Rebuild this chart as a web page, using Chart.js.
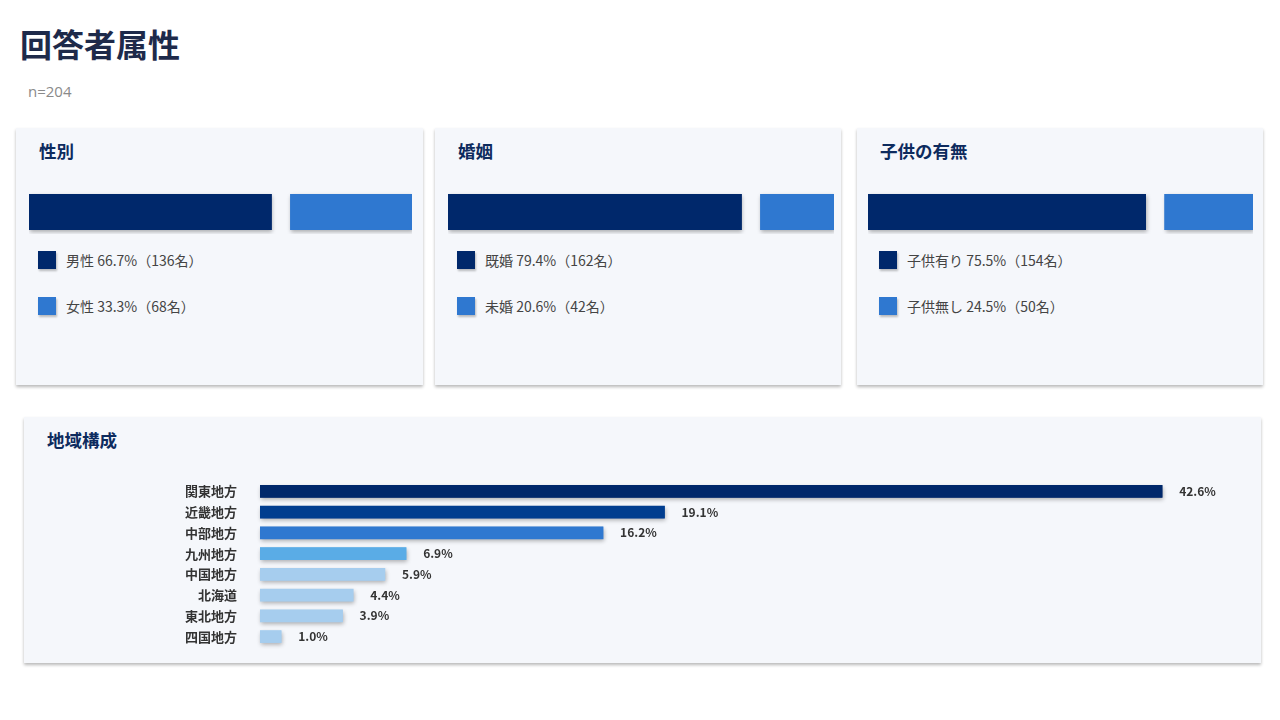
<!DOCTYPE html>
<html lang="ja">
<head>
<meta charset="utf-8">
<title>回答者属性</title>
<script src="https://cdn.jsdelivr.net/npm/chart.js@4.4.1/dist/chart.umd.min.js"></script>
<style>
    body {
        margin: 0;
        width: 1280px;
        height: 720px;
        background: #ffffff;
        font-family: "Noto Sans CJK JP", "Noto Sans", sans-serif;
        position: relative;
        overflow: hidden;
    }
    h1 {
        position: absolute;
        left: 20px;
        top: 27px;
        margin: 0;
        font-size: 32px;
        line-height: 32px;
        font-weight: 700;
        color: #1e2a4a;
    }
    .sample {
        position: absolute;
        left: 28px;
        top: 83px;
        font-family: "Open Sans", "Noto Sans", sans-serif;
        font-size: 15px;
        line-height: 16px;
        color: #8a8a8a;
    }
    .card {
        position: absolute;
        background: #f5f7fb;
        box-shadow: 0 2px 3px rgba(0, 0, 0, 0.28);
    }
    .card h2 {
        position: absolute;
        left: 23px;
        top: 14px;
        margin: 0;
        font-size: 17.5px;
        line-height: 18px;
        font-weight: 700;
        color: #0d2b5e;
    }
    .bar-box {
        position: absolute;
        top: 62px;
        height: 44px;
    }
    .legend-row {
        position: absolute;
        left: 22px;
        height: 18px;
        display: flex;
        align-items: center;
        font-size: 14px;
        color: #444;
        white-space: nowrap;
    }
    .legend-row span.box {
        width: 18px;
        height: 18px;
        margin-right: 10px;
        box-shadow: 1px 2px 2px rgba(0, 0, 0, 0.25);
    }
    .region-box {
        position: absolute;
        left: 0;
        top: 56px;
        width: 1237px;
        height: 182px;
    }
</style>
</head>
<body>

<h1>回答者属性</h1>
<div class="sample">n=204</div>

<div class="card" style="left:16px; top:128px; width:407px; height:257px;">
    <h2>性別</h2>
    <div class="bar-box" style="left:13px; width:383px;"><canvas id="genderChart"></canvas></div>
    <div id="genderLegend"></div>
</div>

<div class="card" style="left:435px; top:128px; width:406px; height:257px;">
    <h2>婚姻</h2>
    <div class="bar-box" style="left:13px; width:386px;"><canvas id="maritalChart"></canvas></div>
    <div id="maritalLegend"></div>
</div>

<div class="card" style="left:857px; top:128px; width:406px; height:257px;">
    <h2>子供の有無</h2>
    <div class="bar-box" style="left:11px; width:385px;"><canvas id="childChart"></canvas></div>
    <div id="childLegend"></div>
</div>

<div class="card" style="left:24px; top:417px; width:1237px; height:246px;">
    <h2>地域構成</h2>
    <div class="region-box"><canvas id="regionChart"></canvas></div>
</div>

<script>
// data
const genderLabels = ['男性', '女性'];
const genderPct = [66.7, 33.3];
const genderCount = [136, 68];

const maritalLabels = ['既婚', '未婚'];
const maritalPct = [79.4, 20.6];
const maritalCount = [162, 42];

const childLabels = ['子供有り', '子供無し'];
const childPct = [75.5, 24.5];
const childCount = [154, 50];

const regionLabels = ['関東地方', '近畿地方', '中部地方', '九州地方', '中国地方', '北海道', '東北地方', '四国地方'];
const regionPct = [42.6, 19.1, 16.2, 6.9, 5.9, 4.4, 3.9, 1.0];

// colours
const pairColors = ['#00286b', '#2f78d0'];
const regionColors = ['#00286b', '#003d8f', '#2f78d0', '#5aace6', '#a6cdee', '#a6cdee', '#a6cdee', '#a6cdee'];

const FONT = '"Noto Sans CJK JP", "Noto Sans", sans-serif';

// soft drop shadow under each bar (drawn before the bars themselves)
const barShadow = {
    id: 'barShadow',
    beforeDatasetsDraw(chart) {
        const ctx = chart.ctx;
        ctx.save();
        ctx.shadowColor = 'rgba(0, 0, 0, 0.3)';
        ctx.shadowBlur = 4;
        ctx.shadowOffsetX = 1;
        ctx.shadowOffsetY = 2;
        chart.data.datasets.forEach((ds, i) => {
            chart.getDatasetMeta(i).data.forEach(bar => {
                const p = bar.getProps(['x', 'y', 'base', 'height'], true);
                const bw = bar.options.borderWidth;
                const bl = typeof bw === 'object' ? (bw.left || 0) : 0;
                const br = typeof bw === 'object' ? (bw.right || 0) : 0;
                const left = Math.min(p.x, p.base) + bl;
                const right = Math.max(p.x, p.base) - br;
                ctx.fillStyle = bar.options.backgroundColor;
                ctx.fillRect(left, p.y - p.height / 2, right - left, p.height);
            });
        });
        ctx.restore();
    }
};

// percentage text at the end of each region bar
const endLabels = {
    id: 'endLabels',
    afterDatasetsDraw(chart) {
        const ctx = chart.ctx;
        ctx.save();
        ctx.font = '600 12px ' + FONT;
        ctx.fillStyle = '#333';
        ctx.textAlign = 'left';
        ctx.textBaseline = 'middle';
        chart.getDatasetMeta(0).data.forEach((bar, i) => {
            ctx.fillText(regionPct[i].toFixed(1) + '%', bar.x + 17, bar.y);
        });
        ctx.restore();
    }
};

function createSplitBar(canvasId, labels, values) {
    const ctx = document.getElementById(canvasId);
    new Chart(ctx, {
        type: 'bar',
        data: {
            labels: [''],
            datasets: labels.map((label, i) => ({
                label: label,
                data: [values[i]],
                backgroundColor: pairColors[i],
                // transparent border = gap between the two segments
                borderColor: 'rgba(0,0,0,0)',
                borderWidth: i === 0 ? { right: 13 } : { left: 6 },
                borderSkipped: false,
                barThickness: 36
            }))
        },
        options: {
            indexAxis: 'y',
            responsive: true,
            maintainAspectRatio: false,
            animation: false,
            layout: { padding: 0 },
            plugins: { legend: { display: false }, tooltip: { enabled: false } },
            scales: {
                x: { stacked: true, min: 0, max: 100, display: false },
                y: { stacked: true, display: false }
            }
        },
        plugins: [barShadow]
    });
}

function createLegend(elId, labels, pct, counts) {
    const el = document.getElementById(elId);
    labels.forEach((label, i) => {
        const row = document.createElement('div');
        row.className = 'legend-row';
        row.style.top = (123 + i * 46) + 'px';
        const box = document.createElement('span');
        box.className = 'box';
        box.style.background = pairColors[i];
        const text = document.createElement('span');
        text.textContent = label + ' ' + pct[i].toFixed(1) + '%（' + counts[i] + '名）';
        row.appendChild(box);
        row.appendChild(text);
        el.appendChild(row);
    });
}

function initRegionChart() {
    const ctx = document.getElementById('regionChart');
    new Chart(ctx, {
        type: 'bar',
        data: {
            labels: regionLabels,
            datasets: [{
                label: '地域構成',
                data: regionPct,
                backgroundColor: regionColors,
                barThickness: 12
            }]
        },
        options: {
            indexAxis: 'y',
            responsive: true,
            maintainAspectRatio: false,
            animation: false,
            layout: { padding: { top: 8, bottom: 8, right: 48, left: 0 } },
            plugins: { legend: { display: false }, tooltip: { enabled: false } },
            scales: {
                x: { min: 0, max: 45, display: false },
                y: {
                    grid: { display: false, drawTicks: false },
                    border: { display: false },
                    ticks: {
                        padding: 23,
                        color: '#333',
                        font: { family: FONT, size: 13, weight: 'bold' }
                    },
                    afterFit(scale) {
                        scale.width = 236;
                        // tick padding would otherwise also pad top/bottom
                        scale.paddingTop = 0;
                        scale.paddingBottom = 0;
                    }
                }
            }
        },
        plugins: [barShadow, endLabels]
    });
}

createSplitBar('genderChart', genderLabels, genderPct);
createSplitBar('maritalChart', maritalLabels, maritalPct);
createSplitBar('childChart', childLabels, childPct);
createLegend('genderLegend', genderLabels, genderPct, genderCount);
createLegend('maritalLegend', maritalLabels, maritalPct, maritalCount);
createLegend('childLegend', childLabels, childPct, childCount);
initRegionChart();
</script>
</body>
</html>
